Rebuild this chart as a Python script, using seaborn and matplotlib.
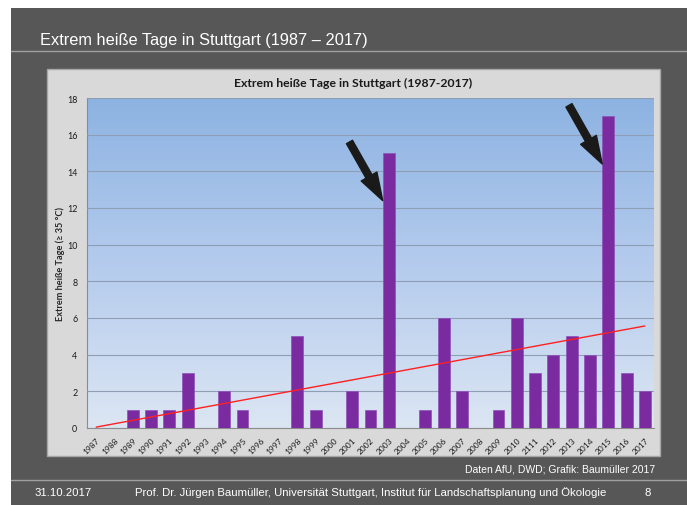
import numpy as np
import pandas as pd
import matplotlib
matplotlib.use("Agg")
import matplotlib.pyplot as plt
from matplotlib.patches import Rectangle
from matplotlib.lines import Line2D
import seaborn as sns

# data (Excel label "2111" kept as in the original)
years = ["1987", "1988", "1989", "1990", "1991", "1992", "1993", "1994", "1995", "1996",
         "1997", "1998", "1999", "2000", "2001", "2002", "2003", "2004", "2005", "2006",
         "2007", "2008", "2009", "2010", "2111", "2012", "2013", "2014", "2015", "2016", "2017"]
hot_days = [0, 0, 1, 1, 1, 3, 0, 2, 1, 0,
            0, 5, 1, 0, 2, 1, 15, 0, 1, 6,
            2, 0, 1, 6, 3, 4, 5, 4, 17, 3, 2]
highlight = ["2003", "2015"]
y_ticks = list(range(0, 19, 2))

df = pd.DataFrame({"year": years, "days": hot_days})

sns.set_style("white")
narrow = ["Liberation Sans", "DejaVu Sans"]
chart_font = ["Lato", "DejaVu Sans"]

W, H = 687, 506
fig = plt.figure(figsize=(W / 100, H / 100), dpi=100)
fig.patch.set_facecolor("white")

def px_rect(x0, y0, x1, y1, **kw):
    # rectangle given in pixel coords (origin top-left)
    fig.patches.append(Rectangle((x0 / W, 1 - y1 / H), (x1 - x0) / W, (y1 - y0) / H,
                                 transform=fig.transFigure, figure=fig, **kw))

# slide background and chart panel
px_rect(11, 9, W, H, facecolor="#575757", edgecolor="none", zorder=0)
px_rect(47, 70, 660, 457, facecolor="#d9d9d9", edgecolor="#a6a6a6", linewidth=1, zorder=1)
for yy in (52, 481):
    fig.lines.append(Line2D([11 / W, 1], [1 - yy / H, 1 - yy / H], transform=fig.transFigure,
                            color="#a0a0a0", linewidth=1, zorder=2))

fig.text(40 / W, 1 - 40 / H, "Extrem heiße Tage in Stuttgart (1987 – 2017)", color="white",
         fontsize=11.8, family=narrow, va="center", ha="left")
fig.text(655 / W, 1 - 470 / H, "Daten AfU, DWD; Grafik: Baumüller 2017", color="white",
         fontsize=7.5, family=narrow, va="center", ha="right")
fig.text(35 / W, 1 - 493 / H, "31.10.2017", color="white", fontsize=8.2, family=narrow, va="center")
fig.text(135 / W, 1 - 493 / H,
         "Prof. Dr. Jürgen Baumüller, Universität Stuttgart, Institut für Landschaftsplanung und Ökologie",
         color="white", fontsize=8.2, family=narrow, va="center")
fig.text(648 / W, 1 - 493 / H, "8", color="white", fontsize=8.2, family=narrow, va="center", ha="center")

fig.text(353.5 / W, 1 - 83 / H, "Extrem heiße Tage in Stuttgart (1987-2017)", fontsize=8.8,
         fontweight="bold", family=chart_font, color="#1a1a1a", ha="center", va="center")

# plot area
ax = fig.add_axes([87 / W, 1 - 429 / H, (654 - 87) / W, (429 - 99) / H])
ax.set_zorder(3)

grad = np.linspace(0, 1, 256).reshape(-1, 1)
cmap = matplotlib.colors.LinearSegmentedColormap.from_list("bg", ["#dce6f3", "#b4cbed", "#8db3e2"])
ax.imshow(grad, aspect="auto", cmap=cmap, origin="lower",
          extent=[-0.5, len(years) - 0.5, 0, 18], zorder=0)

sns.barplot(data=df, x="year", y="days", color="#7a2ba0", saturation=1, width=0.65,
            edgecolor="#9050bc", linewidth=0.5, ax=ax, zorder=3)

# linear trend (Excel style)
xi = np.arange(len(years))
k, d = np.polyfit(xi, np.array(hot_days, dtype=float), 1)
ax.plot(xi, k * xi + d, color="#ff2020", linewidth=1, zorder=4)

# arrows pointing at the record years
for yr in highlight:
    i = years.index(yr)
    v = hot_days[i]
    ax.annotate("", xy=(i - 0.33, v - 2.6), xytext=(i - 2.15, v + 0.6),
                arrowprops=dict(facecolor="#1a1a1a", edgecolor="#1a1a1a", width=5,
                                headwidth=13, headlength=20, shrink=0),
                zorder=5)

ax.set_xlim(-0.5, len(years) - 0.5)
ax.set_ylim(0, 18)
ax.set_yticks(y_ticks)
ax.grid(axis="y", color="#8e9eb5", linewidth=0.8, zorder=1)
ax.set_axisbelow(False)
for gl in ax.get_ygridlines():
    gl.set_zorder(1)

ax.set_xlabel("")
ax.set_ylabel("Extrem heiße Tage (≥ 35 °C)", fontsize=6.6, fontweight="bold", family=chart_font,
              labelpad=1)
ax.tick_params(axis="y", labelsize=6.4, length=4, color="#8c8c8c", pad=3)
ax.set_xticks(np.arange(len(years)))
ax.set_xticklabels(years, rotation=45, ha="right", rotation_mode="anchor", fontsize=6)
ax.tick_params(axis="x", length=0, pad=6)
for t in ax.get_xticklabels() + ax.get_yticklabels():
    t.set_family(chart_font)
    t.set_color("#1a1a1a")

# small tick marks between categories
ax.set_xticks(np.arange(-0.5, len(years)), minor=True)
ax.tick_params(axis="x", which="minor", length=4, color="#8c8c8c")

for s in ["top", "right"]:
    ax.spines[s].set_visible(False)
ax.spines["left"].set_color("#8c8c8c")
ax.spines["bottom"].set_color("#8c8c8c")
ax.spines["left"].set_linewidth(0.8)
ax.spines["bottom"].set_linewidth(0.8)

fig.savefig("out.png", dpi=100)
